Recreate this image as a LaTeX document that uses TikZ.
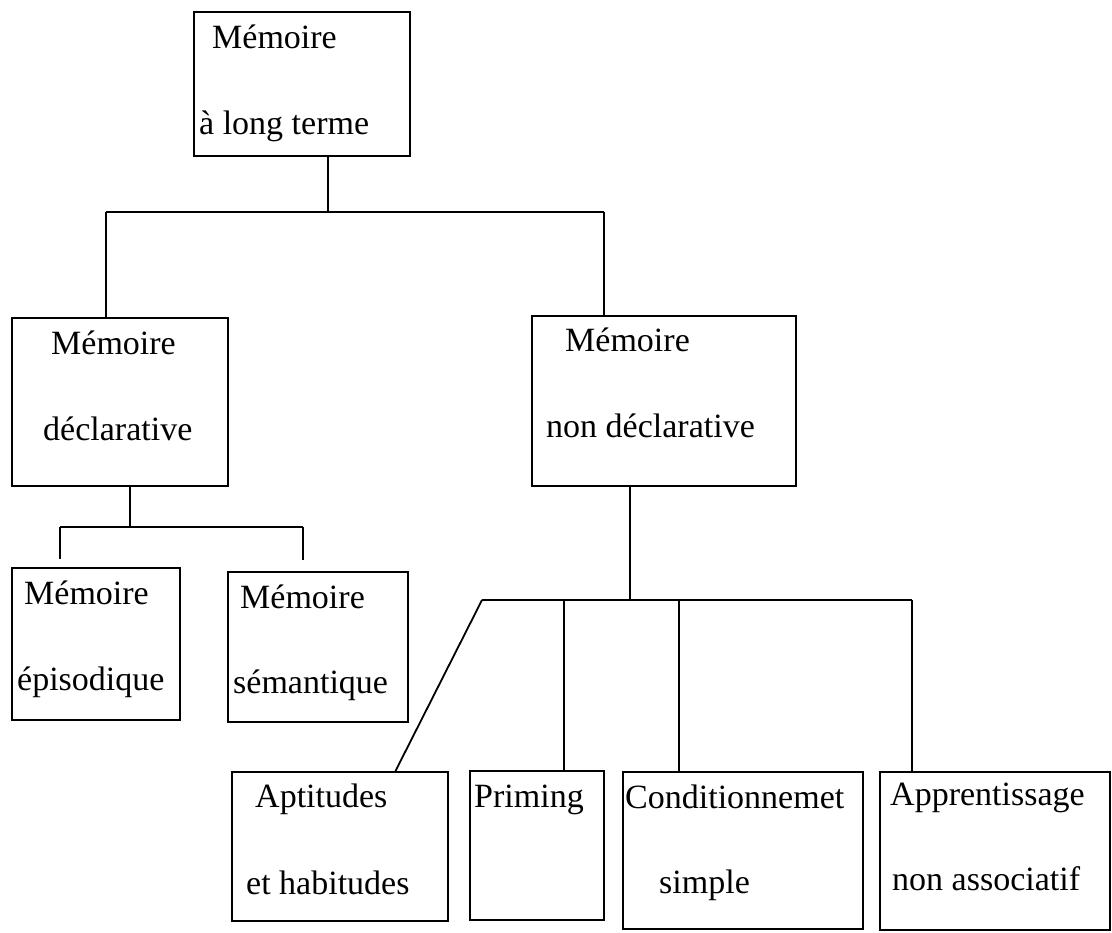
\documentclass[tikz,border=0pt]{standalone}
\usepackage{fontspec}
\setmainfont{Liberation Serif}
\usetikzlibrary{fit}
\begin{document}
\begin{tikzpicture}[x=1pt,y=-1pt,
  box/.style={draw, line width=2pt, inner sep=0pt, fit={#1}},
  txt/.style={anchor=base west, inner sep=0pt, font=\fontsize{34}{40}\selectfont},
  link/.style={line width=1.8pt}]
\useasboundingbox (0,0) rectangle (1112,933);

% boxes
\node[box={(194,12) (410,156)}]   (top)     {};
\node[box={(12,318) (228,486)}]   (decl)    {};
\node[box={(532,316) (796,486)}]  (nondecl) {};
\node[box={(12,568) (180,720)}]   (epi)     {};
\node[box={(228,572) (408,722)}]  (sem)     {};
\node[box={(232,772) (448,921)}]  (apt)     {};
\node[box={(470,771) (604,920)}]  (prim)    {};
\node[box={(623,772) (863,929)}]  (cond)    {};
\node[box={(880,772) (1110,930)}] (appr)    {};

% labels
\node[txt] (topA)  at (212,49)  {Mémoire};
\node[txt] (topB)  at (199,135) {à long terme};
\node[txt] (declA) at (51,355)  {Mémoire};
\node[txt] (declB) at (43,440)  {déclarative};
\node[txt] (ndA)   at (565,352) {Mémoire};
\node[txt] (ndB)   at (546,438) {non déclarative};
\node[txt] (epiA)  at (24,604)  {Mémoire};
\node[txt] (epiB)  at (17,690)  {épisodique};
\node[txt] (semA)  at (240,608) {Mémoire};
\node[txt] (semB)  at (233,693) {sémantique};
\node[txt] (aptA)  at (255,807) {Aptitudes};
\node[txt] (aptB)  at (246,894) {et habitudes};
\node[txt] (primA) at (474,807) {Priming};
\node[txt] (condA) at (625,808) {Conditionnemet};
\node[txt] (condB) at (659,893) {simple};
\node[txt] (apprA) at (890,805) {Apprentissage};
\node[txt] (apprB) at (892,890) {non associatif};

% junction points
\coordinate (j0)  at (328,212);
\coordinate (hL)  at (106,212);
\coordinate (hR)  at (604,212);
\coordinate (j1)  at (130,527);
\coordinate (j1L) at (60,527);
\coordinate (j1R) at (303,527);
\coordinate (e1)  at (60,559);
\coordinate (e2)  at (303,560);
\coordinate (j2)  at (630,600);
\coordinate (j2L) at (482,600);
\coordinate (j2R) at (912,600);
\coordinate (pj)  at (564,600);
\coordinate (cj)  at (679,600);
\coordinate (aptin) at (395,772);

% connectors
\draw[link] (top.south -| j0) -- (j0);
\draw[link] (hL) -- (hR);
\draw[link] (hL) -- (hL |- decl.north);
\draw[link] (hR) -- (hR |- nondecl.north);

\draw[link] (decl.south -| j1) -- (j1);
\draw[link] (j1L) -- (j1R);
\draw[link] (j1L) -- (e1);
\draw[link] (j1R) -- (e2);

\draw[link] (nondecl.south -| j2) -- (j2);
\draw[link] (j2L) -- (j2R);
\draw[link] (j2L) -- (aptin);
\draw[link] (pj) -- (pj |- prim.north);
\draw[link] (cj) -- (cj |- cond.north);
\draw[link] (j2R) -- (j2R |- appr.north);
\end{tikzpicture}
\end{document}
